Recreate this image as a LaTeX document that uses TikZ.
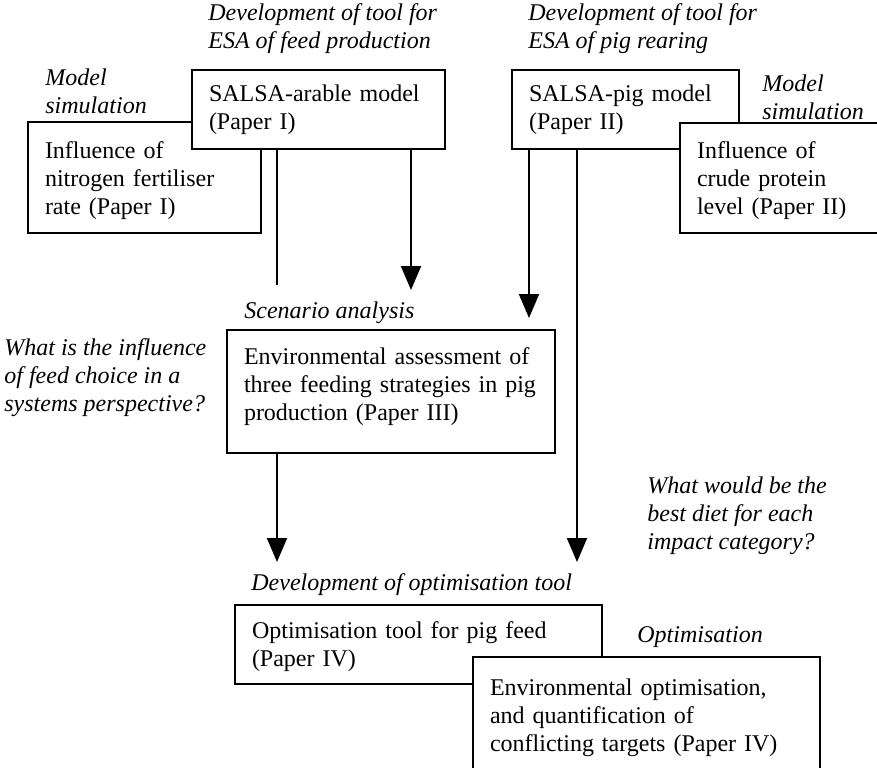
\documentclass[tikz,border=0pt]{standalone}
\usepackage{fontspec}
\setmainfont{Liberation Serif}
\usetikzlibrary{arrows.meta,positioning,calc}

\begin{document}
\begin{tikzpicture}[x=0.5pt, y=-0.5pt,
  every node/.style={font=\fontsize{12}{14}\selectfont},
  paper/.style={rectangle, draw, line width=1pt, fill=white, align=left,
                inner xsep=8.5pt, inner ysep=0pt, anchor=north west},
  aim/.style={align=left, inner sep=0pt, anchor=north west,
              font=\fontsize{12}{14}\selectfont\itshape},
  arr/.style={-{Triangle[length=12pt, width=10pt]}, line width=1pt},
  link/.style={line width=1pt},
]
\useasboundingbox (0,0) rectangle (877,767);

%% Top row: the two models and their simulations
\node[paper, text width=99.5pt, text height=18pt, text depth=37.5pt] (nitro) at (27,121)
  {Influence of\\nitrogen fertiliser\\rate (Paper I)};
\node[paper, text width=109.5pt, text height=15.5pt, text depth=24pt] (arable) at (191,69)
  {SALSA-arable model\\(Paper I)};
\node[paper, text width=96.5pt, text height=15.5pt, text depth=24pt] (pig) at (511,69)
  {SALSA-pig model\\(Paper II)};
\node[paper, text width=98pt, text height=17.5pt, text depth=37.5pt] (crude) at (679,122)
  {Influence of\\crude protein\\level (Paper II)};

\node[aim] (devFeed) at (208,3.5) {Development of tool for\\ESA of feed production};
\node[aim] (devPig) at (528,3.5) {Development of tool for\\ESA of pig rearing};
\node[aim] (simFeed) at (45,68.5) {Model\\simulation};
\node[aim] (simPig) at (762,74.5) {Model\\simulation};

%% Scenario analysis
\node[paper, text width=147pt, text height=17pt, text depth=44.5pt] (env) at (226,329)
  {Environmental assessment of\\three feeding strategies in pig\\production (Paper III)};
\node[aim] (scen) at (244,301.5) {Scenario analysis};
\node[aim] (askFeed) at (4,338.5)
  {What is the influence\\of feed choice in a\\systems perspective?};

%% Optimisation
\node[aim] (askDiet) at (647,476.5)
  {What would be the\\best diet for each\\impact category?};
\node[aim] (devOpt) at (251,573.5) {Development of optimisation tool};
\node[aim] (optim) at (637,626.5) {Optimisation};
\node[paper, text width=166.5pt, text height=16.5pt, text depth=23pt] (opt) at (234,604)
  {Optimisation tool for pig feed\\(Paper IV)};
\node[paper, text width=156.5pt, text height=19pt, text depth=53pt] (envOpt) at (472,656)
  {Environmental optimisation,\\and quantification of\\conflicting targets (Paper IV)};

%% Arrows
\coordinate (feedEnd) at (277,285);
\coordinate (feedTip) at (411,290);
\coordinate (pigTip) at (529,318);
\coordinate (dietTip) at (577,562);
\coordinate (scenTip) at (277,562);

\draw[link] (arable.south -| feedEnd) -- (feedEnd);
\draw[arr] (arable.south -| feedTip) -- (feedTip);
\draw[arr] (pig.south -| pigTip) -- (pigTip);
\draw[arr] (pig.south -| dietTip) -- (dietTip);
\draw[arr] (env.south -| scenTip) -- (scenTip);

\end{tikzpicture}
\end{document}
